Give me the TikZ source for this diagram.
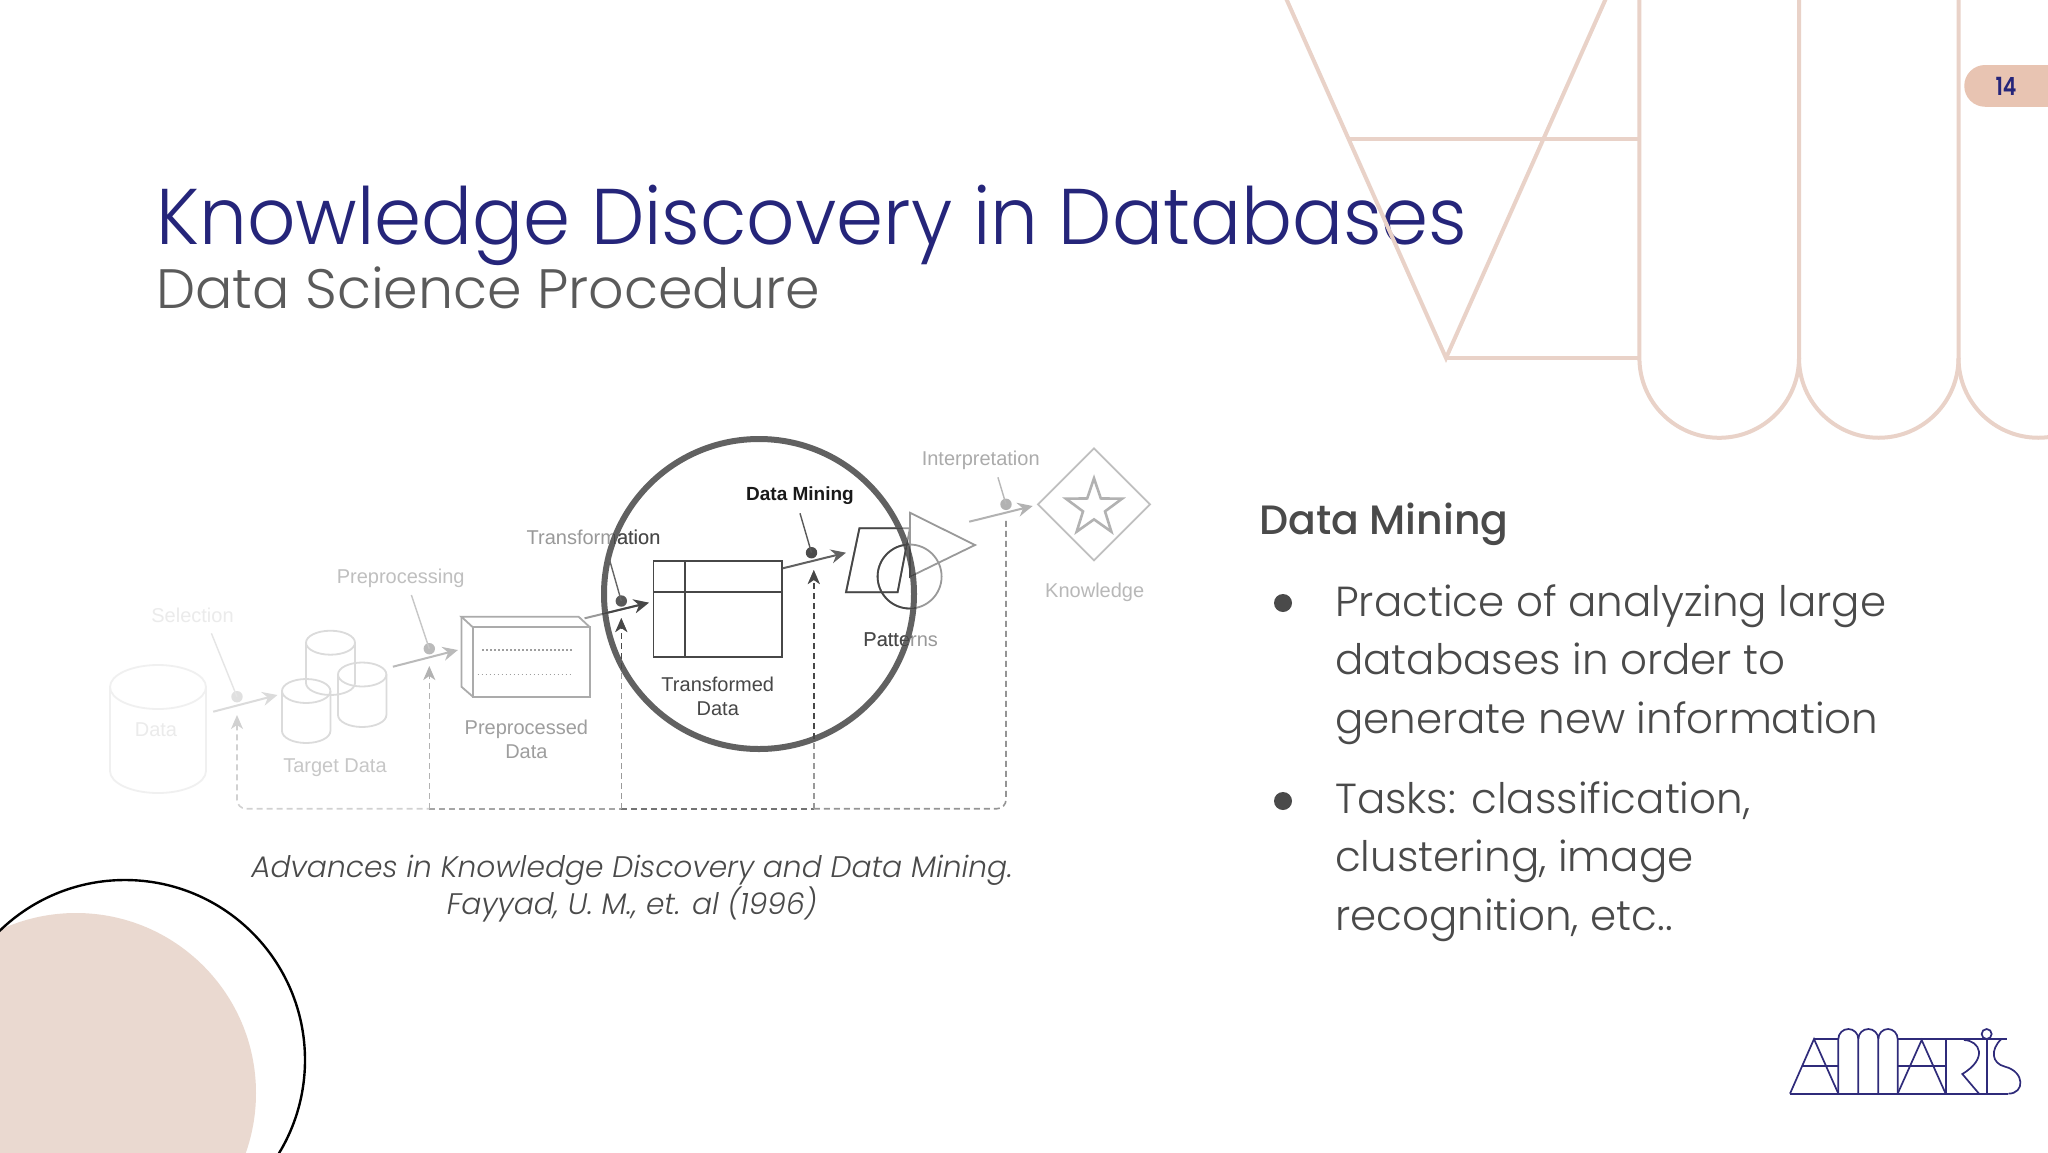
\documentclass[tikz,border=0pt]{standalone}
\usepackage{fontspec}
\usetikzlibrary{arrows.meta,shapes.geometric}
\setmainfont{Liberation Sans}
\newfontfamily\gothic{Poppins Light}
\newfontfamily\titlefont[FakeStretch=0.957]{Poppins Light}
\newfontfamily\gothicmed{Poppins Medium}
\newfontfamily\pagefont[FakeStretch=0.82]{Poppins SemiBold}
\definecolor{navy}{HTML}{25257A}
\definecolor{slate}{HTML}{4A4A4A}
\definecolor{subgrey}{HTML}{5A5A5A}
\definecolor{blush}{HTML}{E9D2C8}
\definecolor{badge}{HTML}{E8C4B2}
\definecolor{disc}{HTML}{EAD9D0}
\definecolor{logoink}{HTML}{2F2B7A}
\tikzset{
  deco/.style={draw=blush,line width=4pt},
  lbl/.style={font=\fontsize{20}{24}\selectfont,inner sep=0pt,align=center},
  flowline/.style={line width=2pt,-{Stealth[length=15pt,width=14pt,inset=5pt]}},
  backline/.style={line width=1.6pt,dash pattern=on 6pt off 4pt},
  backtip/.style={backline,-{Stealth[length=14pt,width=12pt,inset=4pt]}},
  leadline/.style={line width=1.4pt},
  outl/.style={line width=1.8pt},
  logoline/.style={draw=logoink,line width=1.7pt},
}
\newcommand{\dbcyl}[6]{% colour, cx, rx, cy of top ellipse, ry, bottom y
  \draw[outl,draw=#1] (#2,#4) ellipse [x radius=#3,y radius=#5];
  \draw[outl,draw=#1] (#2-#3,#4) -- (#2-#3,#6-#5) arc [start angle=180,end angle=360,x radius=#3,y radius=-#5] -- (#2+#3,#4);
}
\newcommand{\crossing}[2]{% colour, name suffix
  \node[lbl,text=#1] (transf#2) at (593.5,537) {Transformation};
  \draw[flowline,draw=#1] (ptrA) -- (ptrB);
  \draw[backtip,draw=#1] (dtrA) -- (dtrB);
  \draw[backtip,draw=#1] (dmiA) -- (dmiB);
  \draw[outl,draw=#1] (846,592.3) -- (859.4,528.3) -- (909.9,528.3) -- (897.6,592.3) -- cycle;
  \draw[outl,draw=#1] (909.6,576.5) circle [radius=32];
  \draw[outl,draw=#1] (909.9,576.7) -- (909.9,512.7) -- (975,545) -- cycle;
  \node[lbl,text=#1] (patt#2) at (900.7,639.3) {Patterns};
}
\begin{document}
\begin{tikzpicture}[x=1pt,y=-1pt]
\useasboundingbox (0,0) rectangle (2048,1152);
\fill[white] (0,0) rectangle (2048,1152);
% titles
\node[anchor=base west,text=navy,font=\titlefont\fontsize{79}{90}\selectfont,inner sep=0pt] (title) at (156,244) {Knowledge Discovery in Databases};
\node[anchor=base west,text=subgrey,font=\gothic\fontsize{55.5}{60}\selectfont,inner sep=0pt] (subtitle) at (156,308) {Data Science Procedure};
\begin{scope}
\clip (0,0) rectangle (2048,1152);
% decoration top right
\draw[deco] (1285,-4) -- (1446,358) -- (1607,-4);
\draw[deco] (1349.4,139) -- (1639.4,139);
\draw[deco] (1446,358) -- (1639.4,358);
\draw[deco] (1639.4,-4) -- (1639.4,358) arc [start angle=180,end angle=0,radius=79.8] -- (1799,-4);
\draw[deco] (1799,358) arc [start angle=180,end angle=0,radius=79.75] -- (1958.5,-4);
\draw[deco] (1958.5,358) arc [start angle=180,end angle=0,radius=79.75];
% lower left circles
\fill[disc] (76,1093) circle [radius=180];
\draw[black,line width=2.4pt] (125,1060) circle [radius=180];
% badge
\fill[badge] (2060,65) -- (1985,65) arc [start angle=270,end angle=180,radius=20.75] -- (1964.25,86) arc [start angle=180,end angle=90,radius=20.75] -- (2060,106.75) -- cycle;
\end{scope}
\node[text=navy,font=\pagefont\fontsize{25}{28}\selectfont,inner sep=0pt] (page) at (2006,86) {14};
% connector coordinates
\coordinate (ptrA) at (584.6,618.3); \coordinate (ptrB) at (648.9,602.7);
\coordinate (dtrA) at (621.3,808.7); \coordinate (dtrB) at (621.3,618);
\coordinate (dmiA) at (813.8,808.7); \coordinate (dmiB) at (813.8,570);
% lens
\draw[draw=black!62,line width=6pt] (759,594) circle [radius=155];
% data
\dbcyl{black!6}{158}{48}{687}{22}{793}
\node[lbl,text=black!8] (data0) at (156,729.5) {Data};
\node[lbl,text=black!8] (selection) at (192.5,615.7) {Selection};
\fill[black!12] (237,696.7) circle [radius=5.7] coordinate (seldot);
\coordinate (selL) at (211.4,633.3);
\draw[leadline,draw=black!10] (selL) -- (seldot);
\coordinate (selA) at (213.2,711.7); \coordinate (selB) at (277.5,695);
\draw[flowline,draw=black!14] (selA) -- (selB);
% target data
\dbcyl{black!14}{330.5}{24.5}{642.7}{12}{695}
\dbcyl{black!14}{362.2}{24.2}{674.5}{12}{727}
\dbcyl{black!14}{306.2}{24.2}{691}{12}{743}
\node[lbl,text=black!22] (target) at (335,767.7) {Target Data};
\node[lbl,text=black!25] (preproc) at (400.7,578) {Preprocessing};
\fill[black!27] (429.3,648.7) circle [radius=5.7] coordinate (predot);
\coordinate (preL) at (411.4,595);
\draw[leadline,draw=black!22] (preL) -- (predot);
\coordinate (preA) at (392.9,666.7); \coordinate (preB) at (457.9,650);
\draw[flowline,draw=black!27] (preA) -- (preB);
% preprocessed box
\draw[outl,draw=black!33] (472.9,627.3) rectangle (590,696.7);
\draw[outl,draw=black!33] (472.9,627.3) -- (461.4,616.7) -- (578.6,616.7) -- (590,627.3);
\draw[outl,draw=black!33] (461.4,616.7) -- (461.4,686.7) -- (472.9,696.7);
\draw[line width=1.4pt,draw=black!38,dash pattern=on 1.6pt off 2.4pt] (482,650) -- (572,650);
\draw[line width=1.4pt,draw=black!38,dash pattern=on 1.6pt off 2.4pt] (477.5,674.3) -- (572,674.3);
\node[lbl,text=black!38,font=\fontsize{20}{24.4}\selectfont] (preprocd) at (526.4,739.5) {Preprocessed\\Data};
% feedback dashed lines
\coordinate (fbL) at (237,715); \coordinate (fbR) at (1006,520);
\draw[backline,draw=black!18,rounded corners=9pt,{Stealth[length=14pt,width=12pt,inset=4pt]}-] (fbL) -- (237,808.7) -- (429.3,808.7);
\draw[backline,draw=black!35] (429.3,808.7) -- (621.3,808.7);
\draw[backline,draw=black!55] (621.3,808.7) -- (813.8,808.7);
\draw[backline,draw=black!42,rounded corners=9pt] (813.8,808.7) -- (1006,808.7) -- (fbR);
\coordinate (dprA) at (429.3,808.7); \coordinate (dprB) at (429.3,666);
\draw[backtip,draw=black!30] (dprA) -- (dprB);
% outside tone of pieces crossing the lens
\crossing{black!40}{o}
% transformation leader and dot
\fill[black!65] (621.3,601) circle [radius=5.7] coordinate (trdot);
\coordinate (trL) at (609.6,560);
\draw[leadline,draw=black!60] (trL) -- (trdot);
% transformed data
\draw[outl,draw=black!72] (653.5,560.7) rectangle (782,656.7);
\draw[outl,draw=black!72] (685.2,560.7) -- (685.2,656.7);
\draw[outl,draw=black!72] (653.5,592.3) -- (782,592.3);
\node[lbl,text=black!72] (transformed) at (717.8,696.3) {Transformed\\Data};
% data mining
\node[lbl,text=black!90,font=\bfseries\fontsize{19}{24}\selectfont] (dmining) at (800,495.5) {Data Mining};
\fill[black!70] (811.5,552.7) circle [radius=5.7] coordinate (dmdot);
\coordinate (dmL) at (800,513.3);
\draw[leadline,draw=black!65] (dmL) -- (dmdot);
\coordinate (dmA) at (782.8,568.3); \coordinate (dmB) at (846,552.7);
\draw[flowline,draw=black!62] (dmA) -- (dmB);
% inside tone
\begin{scope}
\clip (759,594) circle [radius=158];
\crossing{black!72}{i}
\end{scope}
% interpretation and knowledge
\node[lbl,text=black!33] (interp) at (980.7,460.5) {Interpretation};
\fill[black!30] (1006,504.3) circle [radius=5.7] coordinate (indot);
\coordinate (inL) at (997.9,477.3);
\draw[leadline,draw=black!28] (inL) -- (indot);
\coordinate (inA) at (969.2,521.7); \coordinate (inB) at (1032.7,506);
\draw[flowline,draw=black!30] (inA) -- (inB);
\draw[outl,draw=black!25] (1094,448.3) -- (1150,504.3) -- (1094,560.3) -- (1038,504.3) -- cycle;
\node[star,star points=5,star point ratio=2.55,minimum size=59pt,inner sep=0pt,draw=black!30,line width=2.6pt] (star) at (1094,507.8) {};
\node[lbl,text=black!28] (knowledge) at (1094.7,592.5) {Knowledge};
% caption
\node[text=slate,font=\gothic\itshape\fontsize{29.7}{36.5}\selectfont,align=center,inner sep=0pt] (caption) at (632,888.5) {Advances in Knowledge Discovery and Data Mining.\\Fayyad, U. M., et. al (1996)};
% right column
\node[anchor=west,text=slate,font=\gothicmed\fontsize{41}{48}\selectfont,inner sep=0pt] (rhead) at (1259,524) {Data Mining};
\fill[slate] (1283,603) circle [radius=9] coordinate (b1);
\fill[slate] (1283,801) circle [radius=9] coordinate (b2);
\node[anchor=north west,text=slate,font=\gothic\fontsize{42}{58.8}\selectfont,align=left,inner sep=0pt] (p1) at (1335,584) {Practice of analyzing large\\databases in order to\\generate new information};
\node[anchor=north west,text=slate,font=\gothic\fontsize{42}{58.8}\selectfont,align=left,inner sep=0pt] (p2) at (1335,781) {Tasks: classification,\\clustering, image\\recognition, etc..};
% logo
\begin{scope}[shift={(1760,1000)},x=0.3333pt,y=-0.3333pt]
\draw[logoline] (90,281) -- (745,281);
\draw[logoline] (90,281) -- (162,117) -- (235,281);
\draw[logoline] (162,117) -- (235,117);
\draw[logoline] (125,198) -- (235,198);
\draw[logoline] (235,281) -- (235,117) arc [start angle=180,end angle=0,x radius=30,y radius=-30] -- (295,281);
\draw[logoline] (295,117) arc [start angle=180,end angle=0,x radius=30,y radius=-30] -- (355,281);
\draw[logoline] (355,117) arc [start angle=180,end angle=0,x radius=29,y radius=-30] -- (413,281);
\draw[logoline] (413,281) -- (485,120) -- (557,281);
\draw[logoline] (413,117) -- (740,117);
\draw[logoline] (413,198) -- (557,198);
\draw[logoline] (557,117) -- (557,281);
\draw[logoline] (612,120) .. controls (660,122) and (685,175) .. (607,222) -- (657,281);
\draw[logoline] (680,117) -- (680,281);
\draw[logoline] (680,102) circle [radius=15];
\draw[logoline] (724,117) .. controls (690,150) and (695,190) .. (735,200) .. controls (795,215) and (795,281) .. (745,281);
\end{scope}
\end{tikzpicture}
\end{document}
